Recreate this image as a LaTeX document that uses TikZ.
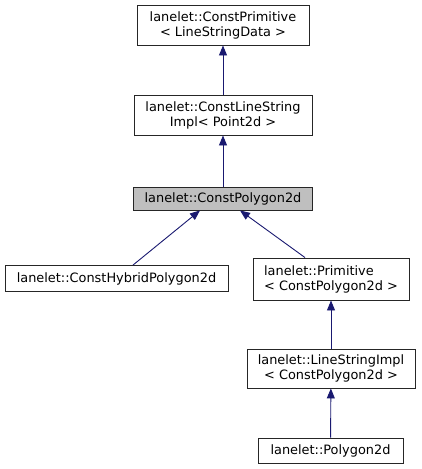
\documentclass[tikz,border=0pt]{standalone}
\usepackage{fontspec}
\setmainfont{DejaVu Sans}
\usepackage{tikz}
\usetikzlibrary{arrows.meta}
\usetikzlibrary{positioning}

\definecolor{edgeblue}{HTML}{191970}
\definecolor{curgray}{HTML}{BFBFBF}

\begin{document}
\begin{tikzpicture}[x=1pt,y=-1pt,
    cls/.style={draw=black!85, line width=0.9pt, fill=white, inner sep=0pt,
                align=center, font=\fontsize{12.9}{15}\selectfont},
    inherit/.style={draw=edgeblue, line width=0.9pt,
                -{Triangle[length=10pt,width=8pt]}}]
\useasboundingbox (0,0) rectangle (421,469);
% classes
\node[cls, minimum width=172pt, minimum height=40pt] (cprim) at (223,25)
    {lanelet::ConstPrimitive\\< LineStringData >};
\node[cls, minimum width=178pt, minimum height=40pt] (clsimpl) at (223,115)
    {lanelet::ConstLineString\\Impl< Point2d >};
\node[cls, fill=curgray, minimum width=179pt, minimum height=23pt] (cpoly) at (223,198.5)
    {lanelet::ConstPolygon2d};
\node[cls, minimum width=223pt, minimum height=26pt] (chybrid) at (116.5,278.5)
    {lanelet::ConstHybridPolygon2d};
\node[cls, align=left, minimum width=156pt, minimum height=42pt] (prim) at (331,279)
    {lanelet::Primitive\\< ConstPolygon2d >};
\node[cls, minimum width=168pt, minimum height=39pt] (lsimpl) at (331,368.5)
    {lanelet::LineStringImpl\\< ConstPolygon2d >};
\node[cls, minimum width=145pt, minimum height=25pt] (poly) at (330.5,450.5)
    {lanelet::Polygon2d};
% inheritance
\draw[inherit] (clsimpl) -- (cprim);
\draw[inherit] (cpoly) -- (clsimpl);
\draw[inherit] (chybrid.north -| 133,0) -- (cpoly.south -| 200,0);
\draw[inherit] (prim.north -| 305,0) -- (cpoly.south -| 240,0);
\draw[inherit] (lsimpl) -- (prim);
\draw[inherit] (poly) -- (lsimpl);
\end{tikzpicture}
\end{document}
